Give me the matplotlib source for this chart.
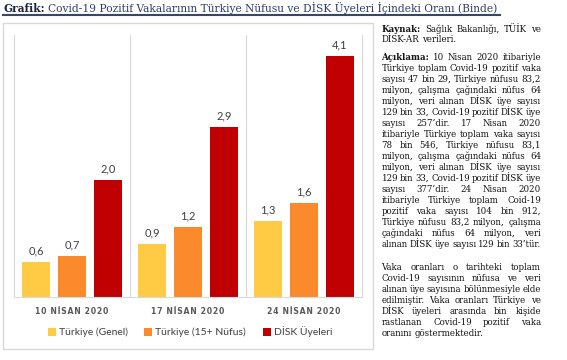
import numpy as np
import matplotlib
matplotlib.use('Agg')
import matplotlib.pyplot as plt
from matplotlib.patches import Rectangle, Patch
from matplotlib.lines import Line2D

W, H = 567, 360

dates = ['10 NİSAN 2020', '17 NİSAN 2020', '24 NİSAN 2020']
series_names = ['Türkiye (Genel)', 'Türkiye (15+ Nüfus)', 'DİSK Üyeleri']
genel = [0.6, 0.9, 1.3]
nufus15 = [0.7, 1.2, 1.6]
disk = [2.0, 2.9, 4.1]
colors = ['#FFCB45', '#FA8A2B', '#C00000']

title_bold = 'Grafik:'
title_rest = 'Covid-19 Pozitif Vakalarının Türkiye Nüfusu ve DİSK Üyeleri İçindeki Oranı (Binde)'

# right column: (bold lead, lines, first line y, line step)
paragraphs = [
    ('Kaynak:', ['Sağlık Bakanlığı, TÜİK ve',
                 'DİSK-AR verileri.'], 29.3, 10.7),
    ('Açıklama:', ['10 Nisan 2020 itibariyle',
                   'Türkiye toplam Covid-19 pozitif vaka',
                   'sayısı 47 bin 29, Türkiye nüfusu 83,2',
                   'milyon, çalışma çağındaki nüfus 64',
                   'milyon, veri alınan DİSK üye sayısı',
                   '129 bin 33, Covid-19 pozitif DİSK üye',
                   'sayısı 257’dir. 17 Nisan 2020',
                   'itibariyle Türkiye toplam vaka sayısı',
                   '78 bin 546, Türkiye nüfusu 83,1',
                   'milyon, çalışma çağındaki nüfus 64',
                   'milyon, veri alınan DİSK üye sayısı',
                   '129 bin 33, Covid-19 pozitif DİSK üye',
                   'sayısı 377’dir. 24 Nisan 2020',
                   'itibariyle Türkiye toplam Coid-19',
                   'pozitif vaka sayısı 104 bin 912,',
                   'Türkiye nüfusu 83,2 milyon, çalışma',
                   'çağındaki nüfus 64 milyon, veri',
                   'alınan DİSK üye sayısı 129 bin 33’tür.'], 57.5, 11.0),
    (None, ['Vaka oranları o tarihteki toplam',
            'Covid-19 sayısının nüfusa ve veri',
            'alınan üye sayısına bölünmesiyle elde',
            'edilmiştir. Vaka oranları Türkiye ve',
            'DİSK üyeleri arasında bin kişide',
            'rastlanan Covid-19 pozitif vaka',
            'oranını göstermektedir.'], 267.3, 11.0),
]

SERIF = 'DejaVu Serif'
SANS = 'Lato'

fig = plt.figure(figsize=(W / 100, H / 100), dpi=100)
fig.patch.set_facecolor('white')


def fx(px):
    return px / W


def fy(py):
    return 1 - py / H


# chart frame
fig.patches.append(Rectangle((fx(3), fy(349)), fx(370), (349 - 23) / H,
                             transform=fig.transFigure, facecolor='none',
                             edgecolor='#d9d9d9', lw=1, zorder=-1))

ax = fig.add_axes([fx(14), fy(297), fx(348), (297 - 35) / H])
ax.patch.set_alpha(0)
x = np.arange(len(dates))
bw = 0.241
step = 0.31
for i, (vals, c, name) in enumerate(zip([genel, nufus15, disk], colors, series_names)):
    bars = ax.bar(x + (i - 1) * step, vals, bw, color=c, label=name, zorder=2)
    for b, v in zip(bars, vals):
        ax.annotate(f'{v:.1f}'.replace('.', ','),
                    (b.get_x() + b.get_width() / 2, v),
                    xytext=(0, 4), textcoords='offset points',
                    ha='center', va='bottom', fontsize=8,
                    family=SANS, color='#404040')

ax.set_xlim(-0.5, 2.5)
ax.set_ylim(0, 4.46)
ax.set_yticks([])
for xs in [0.5, 1.5]:
    ax.axvline(xs, color='#d9d9d9', lw=0.8, zorder=1)
for s in ['left', 'right', 'bottom']:
    ax.spines[s].set_color('#d9d9d9')
    ax.spines[s].set_linewidth(0.8)
ax.spines['top'].set_visible(False)


def spaced(s):
    return '\u2002'.join('\u200a'.join(w) for w in s.split(' '))


ax.set_xticks(x)
ax.set_xticklabels([spaced(d) for d in dates], fontsize=5.6,
                   fontweight='bold', color='#595959', family='DejaVu Sans')
ax.tick_params(axis='x', length=0, pad=7)

handles = [Patch(facecolor=c, edgecolor='none') for c in colors]
fig.legend(handles, series_names, loc='center', ncol=3,
           bbox_to_anchor=(fx(190), fy(332)), frameon=False,
           prop={'family': SANS, 'size': 7.5}, labelcolor='#404040',
           handlelength=0.75, handleheight=0.75, handletextpad=0.3,
           columnspacing=1.6)

fig.canvas.draw()
r = fig.canvas.get_renderer()


def text_w(s, size, weight='normal', family=SERIF):
    t = fig.text(0, 0, s, fontsize=size, weight=weight, family=family)
    w = t.get_window_extent(r).width
    t.remove()
    return w


# title, fitted to the underline width
tsize = 9.0
full_w = text_w(title_bold, tsize, 'bold') + text_w('a ' + title_rest, tsize) - text_w('a', tsize)
tsize = tsize * 494 / full_w
bw_t = text_w(title_bold, tsize, 'bold')
sp_t = text_w('a a', tsize) - text_w('aa', tsize)
fig.text(fx(3), fy(8), title_bold, fontsize=tsize, weight='bold', family=SERIF,
         color='#1c2440', va='center')
fig.text(fx(3 + bw_t + sp_t), fy(8), title_rest, fontsize=tsize, family=SERIF,
         color='#2f3d6b', va='center')
fig.add_artist(Line2D([fx(3), fx(500)], [fy(15), fy(15)], color='#3a4668',
                      lw=1.5, transform=fig.transFigure))

# body text, justified between x0 and x1
x0, x1 = 381.5, 541.0
colw = x1 - x0
bsize = 6.2
min_gap = 1.6
body_col = '#141414'

for lead, lines, y0, dy in paragraphs:
    for j, ln in enumerate(lines):
        y = y0 + j * dy
        words = [(w, 'normal') for w in ln.split(' ')]
        if lead and j == 0:
            words = [(lead, 'bold')] + words
        size = bsize
        widths = [text_w(w, size, wt) for w, wt in words]
        need = sum(widths) + min_gap * (len(words) - 1)
        if need > colw:
            size = size * (colw - min_gap * (len(words) - 1)) / sum(widths)
            widths = [text_w(w, size, wt) for w, wt in words]
        last = j == len(lines) - 1
        if last or len(words) == 1:
            gap = text_w('a a', size) - text_w('aa', size)
            gap = min(gap, (colw - sum(widths)) / max(len(words) - 1, 1))
        else:
            gap = (colw - sum(widths)) / (len(words) - 1)
        xp = x0
        for (w, wt), ww in zip(words, widths):
            fig.text(fx(xp), fy(y), w, fontsize=size, weight=wt, family=SERIF,
                     color=body_col, va='center')
            xp += ww + gap

fig.savefig('out.png', dpi=100, facecolor='white')
